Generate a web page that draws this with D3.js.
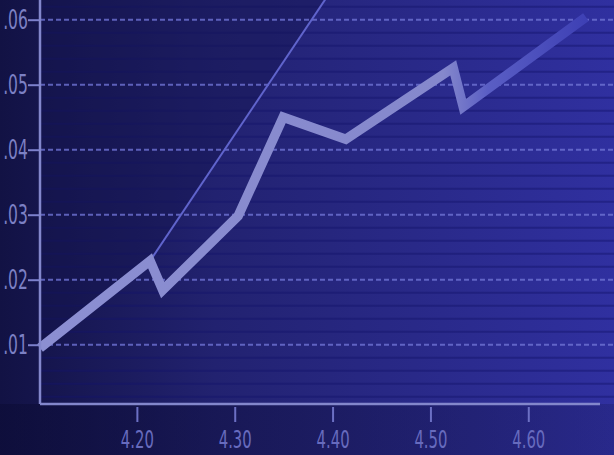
<!DOCTYPE html>
<html>
<head>
<meta charset="utf-8">
<script src="https://cdn.jsdelivr.net/npm/d3@7"></script>
<style>
body { margin: 0; background: #15154a; }
svg { display: block; }
.tick text { font-family: "DejaVu Sans Condensed", "DejaVu Sans", sans-serif; }
</style>
</head>
<body>
<div id="chart"></div>
<script>
// data
var xTicks = [4.20, 4.30, 4.40, 4.50, 4.60];
var yTicks = [0.01, 0.02, 0.03, 0.04, 0.05, 0.06];
var priceX = [4.101, 4.2135, 4.2264, 4.3035, 4.3495, 4.4135, 4.5233, 4.5335, 4.6589];
var priceY = [0.0095, 0.0229, 0.0184, 0.0298, 0.0450, 0.0416, 0.0526, 0.0466, 0.0604];
var trendX = [4.2135, 4.40];
var trendY = [0.0229, 0.0648];

var width = 614;
var height = 455;
var margin = { top: 0, left: 40, right: 0, bottom: 51 };
var plotH = height - margin.bottom;

var svg = d3.select("#chart")
    .append("svg")
    .attr("width", width)
    .attr("height", height);

var defs = svg.append("defs");

// background gradient
var bg = defs.append("linearGradient").attr("id", "bg")
    .attr("x1", 0).attr("x2", 1).attr("y1", 0).attr("y2", 0);
bg.append("stop").attr("offset", "0%").attr("stop-color", "#121244");
bg.append("stop").attr("offset", "35%").attr("stop-color", "#222270");
bg.append("stop").attr("offset", "100%").attr("stop-color", "#3030a0");

var bottomShade = defs.append("linearGradient").attr("id", "bottomShade")
    .attr("x1", 0).attr("x2", 1).attr("y1", 0).attr("y2", 0);
bottomShade.append("stop").attr("offset", "0%").attr("stop-color", "#0c0c36").attr("stop-opacity", 0.6);
bottomShade.append("stop").attr("offset", "100%").attr("stop-color", "#0c0c36").attr("stop-opacity", 0.2);

var lineGrad = defs.append("linearGradient").attr("id", "lineGrad")
    .attr("gradientUnits", "userSpaceOnUse")
    .attr("x1", 40).attr("x2", 600).attr("y1", 0).attr("y2", 0);
lineGrad.append("stop").attr("offset", "0%").attr("stop-color", "#8c8fd2");
lineGrad.append("stop").attr("offset", "72%").attr("stop-color", "#8588cc");
lineGrad.append("stop").attr("offset", "80%").attr("stop-color", "#5a5ec4");
lineGrad.append("stop").attr("offset", "100%").attr("stop-color", "#3a3cb2");

// scale
var x = d3.scaleLinear()
    .domain([4.101, 4.6876])
    .range([margin.left, width]);

var y = d3.scaleLinear()
    .domain([0.00088, 0.06303])
    .range([plotH, 0]);

var price = priceX.map(function (d, i) { return { x: d, y: priceY[i] }; });
var trend = trendX.map(function (d, i) { return { x: d, y: trendY[i] }; });

svg.append("rect")
    .attr("width", width)
    .attr("height", height)
    .style("fill", "url(#bg)");

svg.append("rect")
    .attr("y", plotH)
    .attr("width", width)
    .attr("height", height - plotH)
    .style("fill", "url(#bottomShade)");

// stripes
var stripes = d3.range(0.002, 0.063, 0.002).filter(function (d) {
    return Math.abs(Math.round(d * 100) - d * 100) > 0.01;
});
svg.append("g")
    .selectAll("line")
    .data(stripes)
    .join("line")
    .attr("x1", margin.left)
    .attr("x2", width)
    .attr("y1", d => y(d))
    .attr("y2", d => y(d))
    .style("stroke", "#15156a")
    .style("stroke-opacity", 0.45)
    .style("stroke-width", 2);

// darker region upper left
var darkPoly = [
    [x.range()[0], y(price[0].y)],
    [x(price[1].x), y(price[1].y)],
    [x(trend[1].x), y(trend[1].y)],
    [x.range()[0], y(trend[1].y)]
];
svg.append("path")
    .attr("d", "M" + darkPoly.join("L") + "Z")
    .style("fill", "#14144e")
    .style("opacity", 0.4);

// grid
svg.append("g")
    .selectAll("line")
    .data(yTicks)
    .join("line")
    .attr("x1", margin.left)
    .attr("x2", width)
    .attr("y1", d => y(d))
    .attr("y2", d => y(d))
    .style("stroke", "#6f73d4")
    .style("stroke-width", 2)
    .style("stroke-dasharray", "5,3")
    .style("opacity", 0.8);

// trend line
var line = d3.line()
    .x(d => x(d.x))
    .y(d => y(d.y));

svg.append("path")
    .datum(trend)
    .attr("fill", "none")
    .attr("stroke", "#6064cc")
    .attr("stroke-width", 2)
    .attr("d", line);

// price line
svg.append("path")
    .datum(price)
    .attr("fill", "none")
    .attr("stroke", "url(#lineGrad)")
    .attr("stroke-width", 9.5)
    .attr("stroke-linejoin", "miter")
    .attr("d", line);

// axes
var yAxis = d3.axisLeft(y)
    .tickValues(yTicks)
    .tickSize(12)
    .tickFormat(d => d3.format(".2f")(d).replace(/^0/, ""));

var gy = svg.append("g")
    .attr("transform", "translate(" + margin.left + ",0)")
    .call(yAxis);
gy.select(".domain").remove();
gy.selectAll(".tick line").style("stroke", "#7c80cc").style("stroke-width", 2);
gy.selectAll(".tick text")
    .attr("x", -19)
    .attr("transform", "scale(0.64,1)")
    .style("font-size", "27px")
    .style("fill", "#7c80c4");

var xAxis = d3.axisBottom(x)
    .tickValues(xTicks)
    .tickSize(18)
    .tickPadding(8)
    .tickFormat(d3.format(".2f"));

var gx = svg.append("g")
    .attr("transform", "translate(0," + plotH + ")")
    .call(xAxis);
gx.select(".domain").remove();
gx.selectAll(".tick line").attr("y1", 3).style("stroke", "#6c70c4").style("stroke-width", 2);
gx.selectAll(".tick text")
    .attr("transform", "scale(0.66,1)")
    .style("font-size", "25px")
    .style("fill", "#676bbe");

svg.append("line")
    .attr("x1", margin.left).attr("x2", margin.left)
    .attr("y1", 0).attr("y2", plotH)
    .style("stroke", "#8387cc")
    .style("stroke-width", 2.5);

svg.append("line")
    .attr("x1", margin.left).attr("x2", 600)
    .attr("y1", plotH).attr("y2", plotH)
    .style("stroke", "#8387cc")
    .style("stroke-width", 2.5);
</script>
</body>
</html>
